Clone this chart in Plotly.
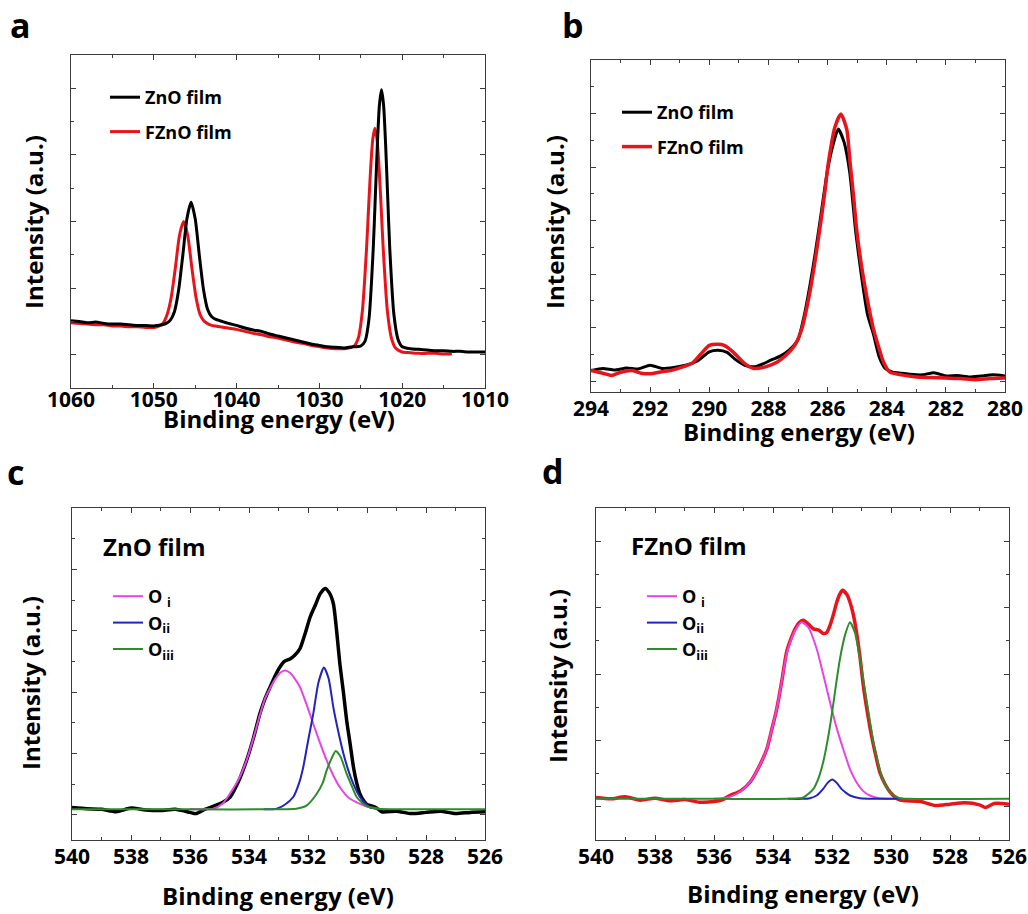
import plotly.graph_objects as go

# ---------------- data ----------------
# panel a : Zn 2p
a_zno_x = [1060,1059,1058,1057,1056,1055,1054,1053,1052,1051,
           1050,1049.5,1049,1048.5,1048,1047.5,1047,1046.5,1046,1045.5,
           1045,1044.5,1044,1043.5,1043,1042.5,1042,1041,1040,1039,
           1038,1037,1036,1035,1034,1033,1032,1031,1030,1029,
           1028,1027,1026,1025.5,1025,1024.5,1024,1023.5,1023.25,1023,
           1022.75,1022.5,1022.25,1022,1021.75,1021.5,1021,1020.5,1020,1019,
           1018,1017,1016,1015,1014,1013,1012,1011,1010]
a_zno_y = [0.51,0.50,0.48,0.49,0.47,0.46,0.46,0.45,0.44,0.44,
           0.43,0.44,0.45,0.47,0.52,0.65,0.97,1.49,2.04,2.29,
           2.04,1.49,0.98,0.68,0.57,0.53,0.51,0.47,0.44,0.40,
           0.37,0.35,0.31,0.28,0.25,0.22,0.19,0.16,0.14,0.12,
           0.11,0.10,0.12,0.12,0.13,0.20,0.55,1.59,2.36,3.15,
           3.75,3.98,3.75,3.15,2.36,1.59,0.60,0.23,0.12,0.09,
           0.08,0.07,0.06,0.06,0.05,0.05,0.04,0.04,0.04]
a_fzno_x = [1060,1059,1058,1057,1056,1055,1054,1053,1052,1051,
            1050,1049.4,1048.9,1048.4,1047.9,1047.4,1046.9,1046.4,1045.9,1045.4,
            1044.9,1044.4,1043.9,1043.4,1043,1042,1041,1040,1039,1038,
            1037,1036,1035,1034,1033,1032,1031,1030,1029,1028,
            1027,1026.5,1025.8,1025.3,1024.8,1024.3,1024.05,1023.8,1023.55,1023.3,
            1023.05,1022.8,1022.55,1022.3,1021.8,1021.3,1020.8,1020,1019,1018,
            1017,1016,1015,1014]
a_fzno_y = [0.48,0.47,0.46,0.45,0.45,0.43,0.43,0.42,0.42,0.41,
            0.41,0.43,0.47,0.60,0.86,1.30,1.79,2.00,1.79,1.30,
            0.86,0.60,0.50,0.46,0.44,0.42,0.40,0.38,0.35,0.32,
            0.30,0.27,0.25,0.22,0.19,0.17,0.14,0.12,0.10,0.09,
            0.09,0.10,0.13,0.25,0.67,1.61,2.23,2.82,3.24,3.40,
            3.24,2.82,2.23,1.61,0.67,0.25,0.10,0.04,0.03,0.02,
            0.02,0.02,0.01,0.01]

# panel b : C 1s
b_zno_x = [294,293.6,293.2,292.8,292.4,292,291.6,291.2,290.8,290.4,
           290.0,289.7,289.4,289.1,288.8,288.5,288.2,287.9,287.6,287.3,
           287.0,286.8,286.6,286.4,286.2,286.0,285.8,285.64,285.45,285.25,
           285.05,284.85,284.65,284.45,284.25,284.05,283.8,283.5,283.2,282.8,
           282.4,282.0,281.6,281.2,280.8,280.4,280.0]
b_zno_y = [0.20,0.24,0.21,0.25,0.23,0.30,0.24,0.26,0.30,0.38,
           0.55,0.58,0.54,0.40,0.30,0.27,0.32,0.40,0.47,0.58,
           0.78,1.20,1.78,2.45,3.20,3.95,4.45,4.71,4.48,3.90,
           2.80,1.95,1.25,0.88,0.45,0.24,0.17,0.15,0.13,0.12,
           0.16,0.10,0.11,0.08,0.10,0.12,0.10]
b_fzno_x = [294,293.6,293.3,293.0,292.6,292.3,292.0,291.6,291.3,291.0,
            290.6,290.3,290.0,289.7,289.5,289.2,288.8,288.5,288.1,287.7,
            287.4,287.1,286.87,286.62,286.45,286.26,286.1,285.97,285.75,285.55,
            285.35,285.24,285.12,285.02,284.85,284.68,284.45,284.25,284.11,283.89,
            283.5,283.0,282.5,282.0,281.5,281.0,280.5,280.0]
b_fzno_y = [0.20,0.15,0.11,0.17,0.20,0.15,0.14,0.18,0.20,0.25,
            0.33,0.50,0.67,0.69,0.67,0.55,0.33,0.24,0.27,0.36,
            0.49,0.68,0.98,1.60,2.15,2.85,3.50,4.09,4.75,4.99,
            4.70,4.09,3.45,2.85,2.15,1.60,0.98,0.60,0.36,0.17,
            0.12,0.08,0.07,0.06,0.05,0.03,0.05,0.06]

# panel c : O 1s ZnO film
c_raw_x = [540,539.5,539,538.5,538,537.5,537,536.5,536,535.8,
           535.5,535.2,534.9,534.64,534.35,534.08,533.85,533.63,533.45,533.29,
           533.1,532.95,532.8,532.61,532.45,532.27,532.1,531.93,531.75,531.59,
           531.42,531.28,531.14,531.03,530.92,530.8,530.69,530.57,530.46,530.35,
           530.24,530.1,530.0,529.7,529.5,529.0,528.5,528.0,527.5,527.0,
           526.5,526.0]
c_raw_y = [0.12,0.10,0.09,0.05,0.11,0.08,0.07,0.09,0.04,0.02,
           0.09,0.14,0.20,0.29,0.55,0.89,1.25,1.65,1.90,2.08,
           2.28,2.41,2.50,2.54,2.60,2.71,2.95,3.22,3.42,3.60,
           3.69,3.62,3.44,3.00,2.46,2.00,1.54,1.15,0.78,0.52,
           0.34,0.22,0.17,0.12,0.05,0.06,0.02,0.04,0.06,0.02,
           0.04,0.05]
c_oi_x = [536.0,535.5,535.21,534.9,534.64,534.35,534.08,533.85,533.63,533.45,
          533.29,533.1,532.95,532.78,532.6,532.45,532.27,532.05,531.82,531.6,
          531.37,531.15,530.92,530.6,530.24,529.9,529.5]
c_oi_y = [0.09,0.09,0.10,0.18,0.35,0.58,0.89,1.25,1.63,1.90,
          2.06,2.22,2.31,2.35,2.31,2.22,2.08,1.80,1.48,1.18,
          0.89,0.65,0.45,0.27,0.18,0.12,0.09]
c_oii_x = [533.5,533.06,532.8,532.5,532.3,532.16,532.0,531.82,531.65,531.46,
           531.3,531.14,530.97,530.8,530.63,530.46,530.24,529.9,529.5]
c_oii_y = [0.09,0.10,0.16,0.29,0.52,0.78,1.20,1.65,2.15,2.40,
           2.22,1.75,1.35,1.00,0.72,0.50,0.29,0.12,0.09]
c_oiii_x = [540,536,533,532.4,532.05,531.71,531.5,531.37,531.2,531.06,
            530.9,530.69,530.5,530.35,530.15,530.0,529.6,529,526]
c_oiii_y = [0.09,0.09,0.09,0.10,0.15,0.34,0.52,0.72,0.92,1.04,
            0.95,0.67,0.45,0.29,0.19,0.14,0.10,0.09,0.09]

# panel d : O 1s FZnO film
d_raw_x = [540,539.5,539,538.5,538,537.5,537,536.5,536,535.7,
           535.46,535.1,534.78,534.5,534.21,534.05,533.87,533.7,533.54,533.4,
           533.25,533.1,532.97,532.8,532.63,532.45,532.3,532.17,532.07,531.95,
           531.84,531.74,531.64,531.5,531.39,531.28,531.17,531.05,530.94,530.8,
           530.66,530.52,530.38,530.2,530.03,529.85,529.69,529.5,529,528.5,
           528,527.5,527,526.8,526.5,526]
d_raw_y = [0.14,0.12,0.15,0.10,0.13,0.09,0.11,0.07,0.08,0.11,
           0.17,0.24,0.37,0.58,0.87,1.15,1.48,1.90,2.33,2.52,
           2.68,2.78,2.81,2.75,2.68,2.66,2.61,2.63,2.73,2.90,
           3.08,3.20,3.26,3.20,3.08,2.90,2.63,2.25,1.83,1.42,
           1.07,0.78,0.52,0.34,0.22,0.14,0.10,0.09,0.08,0.02,
           0.04,0.06,0.03,-0.01,0.05,0.04]
d_oi_x = [536.0,535.46,535.1,534.78,534.5,534.21,534.05,533.87,533.7,533.54,
          533.4,533.25,533.03,532.8,532.52,532.3,532.07,531.85,531.62,531.4,
          531.17,530.95,530.72,530.4,530.0,529.6]
d_oi_y = [0.12,0.15,0.23,0.37,0.58,0.87,1.15,1.48,1.90,2.30,
          2.50,2.66,2.78,2.70,2.38,2.00,1.58,1.20,0.87,0.58,
          0.37,0.24,0.17,0.13,0.12,0.12]
d_oii_x = [533.5,533.0,532.75,532.52,532.3,532.15,531.99,531.84,531.68,531.52,
           531.39,531.05,530.6,530.0,529.6]
d_oii_y = [0.12,0.12,0.13,0.17,0.27,0.36,0.41,0.36,0.27,0.21,
           0.17,0.13,0.12,0.12,0.12]
d_oiii_x = [540,536,533.5,532.97,532.63,532.45,532.3,532.15,532.01,531.87,
            531.73,531.55,531.39,531.22,531.05,530.94,530.82,530.7,530.6,530.45,
            530.32,530.18,530.03,529.85,529.7,529.4,526]
d_oiii_y = [0.12,0.12,0.12,0.14,0.27,0.44,0.67,1.00,1.38,1.82,
            2.23,2.60,2.78,2.62,2.23,1.92,1.58,1.25,0.97,0.68,
            0.47,0.32,0.22,0.16,0.13,0.12,0.12]

legend_names = ["ZnO film", "FZnO film"]
fit_names = ["O <sub>i</sub>", "O<sub>ii</sub>", "O<sub>iii</sub>"]
panel_letters = ["a", "b", "c", "d"]
x_title = "Binding energy (eV)"
y_title = "Intensity (a.u.)"

# ---------------- styling ----------------
W, H = 1028, 914
FONT = "Open Sans"
BLACK = "#000000"
RED = "#E8141B"
MAGENTA = "#E645E6"
BLUE = "#2323C0"
GREEN = "#2E8B2E"
FRAME = "#3c3c3c"

def px_x(p):
    return p / W

def px_y(p):
    return 1 - p / H

fig = go.Figure()

def line_trace(x, y, color, width, xa, ya, name=None, legend=None, rank=None, group=None):
    return go.Scatter(
        x=x, y=y, mode="lines", line=dict(color=color, width=width, shape="spline", smoothing=0.6),
        xaxis=xa, yaxis=ya, name=name, showlegend=legend is not None,
        legend=legend if legend else "legend", legendrank=rank if rank else 1000,
        legendgroup=group, hoverinfo="skip")

# panel a (red under black)
fig.add_trace(line_trace(a_fzno_x, a_fzno_y, RED, 3, "x", "y", legend_names[1], "legend", 2, "a2"))
fig.add_trace(line_trace(a_zno_x, a_zno_y, BLACK, 3, "x", "y", legend_names[0], "legend", 1, "a1"))
# panel b (black under red)
fig.add_trace(line_trace(b_zno_x, b_zno_y, BLACK, 3, "x2", "y2", legend_names[0], "legend2", 1, "b1"))
fig.add_trace(line_trace(b_fzno_x, b_fzno_y, RED, 3.5, "x2", "y2", legend_names[1], "legend2", 2, "b2"))
# panel c
fig.add_trace(line_trace(c_raw_x, c_raw_y, BLACK, 3.5, "x3", "y3"))
fig.add_trace(line_trace(c_oi_x, c_oi_y, MAGENTA, 2, "x3", "y3", fit_names[0], "legend3", 1, "c1"))
fig.add_trace(line_trace(c_oii_x, c_oii_y, BLUE, 2, "x3", "y3", fit_names[1], "legend3", 2, "c2"))
fig.add_trace(line_trace(c_oiii_x, c_oiii_y, GREEN, 2, "x3", "y3", fit_names[2], "legend3", 3, "c3"))
# panel d
fig.add_trace(line_trace(d_raw_x, d_raw_y, RED, 3.5, "x4", "y4"))
fig.add_trace(line_trace(d_oi_x, d_oi_y, MAGENTA, 2, "x4", "y4", fit_names[0], "legend4", 1, "d1"))
fig.add_trace(line_trace(d_oii_x, d_oii_y, BLUE, 2, "x4", "y4", fit_names[1], "legend4", 2, "d2"))
fig.add_trace(line_trace(d_oiii_x, d_oiii_y, GREEN, 2, "x4", "y4", fit_names[2], "legend4", 3, "d3"))

tickfont = dict(family=FONT, size=21, color="black", weight="bold")

def xaxis(domain, rng, dtick, mdtick, anchor, standoff):
    return dict(domain=domain, range=rng, autorange=False, anchor=anchor,
                showline=True, linecolor=FRAME, linewidth=1.3, mirror="allticks",
                ticks="inside", ticklen=5, tickwidth=1.2, tickcolor=FRAME,
                tick0=0, dtick=dtick, minor=dict(ticks="inside", dtick=mdtick, ticklen=3, tickcolor=FRAME, tickwidth=1.2),
                showgrid=False, zeroline=False, tickfont=tickfont, ticklabelstandoff=standoff,
                automargin=False)

def yaxis(domain, rng, anchor):
    return dict(domain=domain, range=rng, autorange=False, anchor=anchor,
                showline=True, linecolor=FRAME, linewidth=1.3, mirror="allticks",
                ticks="inside", ticklen=5, tickwidth=1.2, tickcolor=FRAME,
                tick0=0, dtick=1, minor=dict(ticks="inside", dtick=0.5, ticklen=3, tickcolor=FRAME, tickwidth=1.2),
                showgrid=False, zeroline=False, showticklabels=False, automargin=False)

fig.update_layout(
    width=W, height=H, margin=dict(l=0, r=0, t=0, b=0, autoexpand=False),
    paper_bgcolor="white", plot_bgcolor="white",
    font=dict(family=FONT, color="black"),
    xaxis=xaxis([px_x(71), px_x(485)], [1060, 1010], 10, 5, "y", -7),
    yaxis=yaxis([px_y(388), px_y(55)], [-0.5, 4.5], "x"),
    xaxis2=xaxis([px_x(591), px_x(1005)], [294, 280], 2, 1, "y2", -2),
    yaxis2=yaxis([px_y(392), px_y(60)], [-0.2, 6], "x2"),
    xaxis3=xaxis([px_x(72), px_x(485)], [540, 526], 2, 1, "y3", -2),
    yaxis3=yaxis([px_y(840), px_y(508)], [-0.41, 5], "x3"),
    xaxis4=xaxis([px_x(596), px_x(1009)], [540, 526], 2, 1, "y4", -2),
    yaxis4=yaxis([px_y(840), px_y(508)], [-0.5, 4.5], "x4"),
)

legfont = dict(family=FONT, size=18, color="black", weight="bold")
def legend(xp, yp, gap):
    return dict(x=px_x(xp), y=px_y(yp), xanchor="left", yanchor="top", bgcolor="rgba(0,0,0,0)",
                font=legfont, tracegroupgap=gap, traceorder="grouped", borderwidth=0)

fig.update_layout(
    legend=legend(105, 79, 8),
    legend2=legend(617, 94, 8),
    legend3=legend(108, 578, 0),
    legend4=legend(642, 578, 0),
)

ann = []
def text(x, y, s, size, angle=0, xanchor="center", yanchor="middle"):
    ann.append(dict(x=px_x(x), y=px_y(y), xref="paper", yref="paper", text=s, showarrow=False,
                    xanchor=xanchor, yanchor=yanchor, textangle=angle,
                    font=dict(family=FONT, size=size, color="black", weight="bold")))

# panel letters
text(8, 0, panel_letters[0], 34, xanchor="left", yanchor="top")
text(560, 0, panel_letters[1], 34, xanchor="left", yanchor="top")
text(5, 472, panel_letters[2], 34, xanchor="left")
text(540, 471, panel_letters[3], 34, xanchor="left")
# x titles
text(279, 419, x_title, 24)
text(799, 431, x_title, 24)
text(278, 895, x_title, 24)
text(803, 893, x_title, 24)
# y titles
text(33, 222, y_title, 24, -90)
text(554, 222, y_title, 24, -90)
text(30, 683, y_title, 24, -90)
text(557, 676, y_title, 24, -90)
# inner labels
text(101, 546, legend_names[0], 24, xanchor="left")
text(629, 545, legend_names[1], 24, xanchor="left")

fig.update_layout(annotations=ann)
fig.write_html("out.html", config={"displayModeBar": False},
               post_script="document.body.style.margin='0';")
